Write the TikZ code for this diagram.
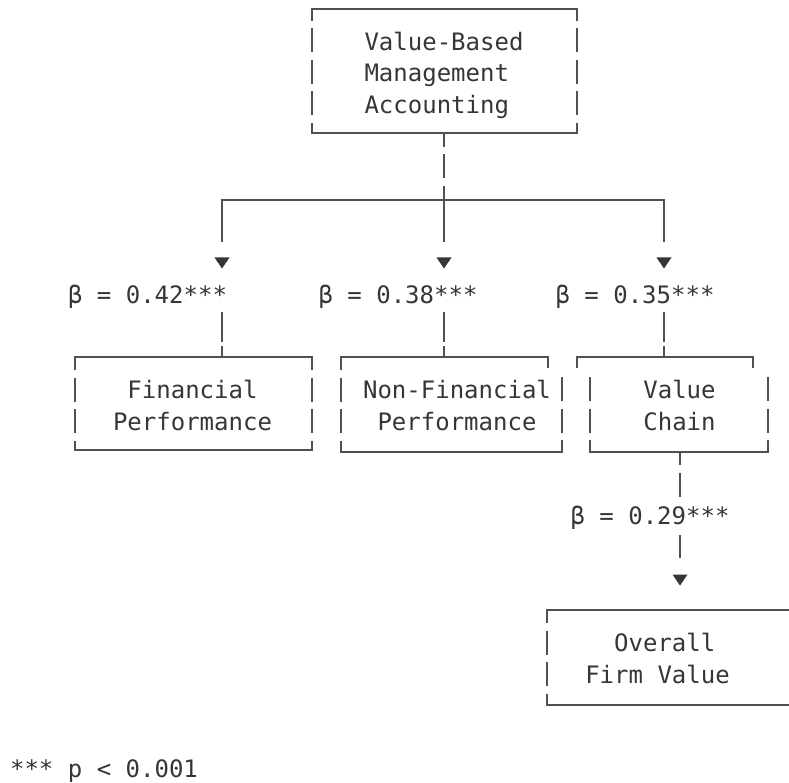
\documentclass[tikz,border=0pt]{standalone}
\usepackage{fontspec}
\setmonofont{DejaVu Sans Mono}
\usetikzlibrary{calc}
\definecolor{ink}{HTML}{363636}
\definecolor{rule}{HTML}{505050}
\begin{document}
\begin{tikzpicture}[x=1pt,y=-1pt,
  mono/.style={font=\ttfamily\fontsize{24}{31.5}\selectfont, text=ink, inner sep=0pt, outer sep=0pt},
  frame/.style={inner sep=0pt, outer sep=0pt},
  hline/.style={draw=rule, line width=1.7pt, line cap=rect},
  side/.style={draw=rule, line width=1.7pt, dash pattern=on 24pt off 7.5pt, dash phase=#1pt},
  gapline/.style={draw=rule, line width=1.7pt, dash pattern=on 30pt off 4pt},
  tip/.pic={\fill[ink] (-7.5,0) -- (7.5,0) -- (0,11) -- cycle;}
]
\useasboundingbox (0,0) rectangle (789,783);
\fill[white] (0,0) rectangle (789,783);

% box frames
\node[frame, minimum width=265pt, minimum height=124pt] (vbm) at (444.5,71) {};
\node[frame, minimum width=237pt, minimum height=93pt] (fin) at (193.5,403.5) {};
\node[frame, minimum width=221pt, minimum height=95pt] (nfin) at (451.5,404.5) {};
\node[frame, minimum width=178pt, minimum height=95pt] (vc) at (679,404.5) {};
\node[frame, minimum width=253pt, minimum height=95pt] (ofv) at (673.5,657.5) {};

% box texts
\node[mono, align=left] (vbmT) at (444,75) {Value-Based\\Management\\Accounting};
\node[mono, align=left] (finT) at (192.5,405.3) {\phantom{X}Financial\\Performance};
\node[mono, align=left] (nfinT) at (457,405.3) {Non-Financial\\\phantom{X}Performance};
\node[mono, align=left] (vcT) at (679.5,405.3) {Value\\Chain};
\node[mono, align=left] (ofvT) at (657.5,658.6) {\phantom{XX}Overall\\Firm Value};

% coefficient labels
\node[mono, anchor=base] (b1) at (147.5,304) {β = 0.42***};
\node[mono, anchor=base] (b2) at (398,304) {β = 0.38***};
\node[mono, anchor=base] (b3) at (635,304) {β = 0.35***};
\node[mono, anchor=base] (b4) at (650,524) {β = 0.29***};
\node[mono, anchor=base] (note) at (104,777) {*** p < 0.001};

% top box borders
\draw[hline] (vbm.north west) -- (vbm.north east);
\draw[hline] (vbm.south west) -- (vbm.south east);
\draw[side=12] (vbm.north west) -- (vbm.south west);
\draw[side=12] (vbm.north east) -- (vbm.south east);

% financial box
\draw[hline] (fin.north west) -- (fin.north east);
\draw[hline] (fin.south west) -- (fin.south east);
\draw[side=11] (fin.north west) -- (fin.south west);
\draw[side=11] (fin.north east) -- (fin.south east);

% non-financial box
\draw[hline] (nfin.north west) -- ([xshift=-14pt]nfin.north east);
\draw[hline, line cap=butt] ([xshift=-14pt]nfin.north east) -- ++(0,11);
\draw[hline] (nfin.south west) -- (nfin.south east);
\draw[side=11] (nfin.north west) -- (nfin.south west);
\draw[side=0] ([yshift=-20pt]nfin.north east) -- (nfin.south east);

% value chain box
\draw[hline] ([xshift=-13pt]vc.north west) -- ([xshift=-15pt]vc.north east);
\draw[hline, line cap=butt] ([xshift=-13pt]vc.north west) -- ++(0,11);
\draw[hline, line cap=butt] ([xshift=-15pt]vc.north east) -- ++(0,11);
\draw[hline] (vc.south west) -- (vc.south east);
\draw[side=0] ([yshift=-20pt]vc.north west) -- (vc.south west);
\draw[side=0] ([yshift=-20pt]vc.north east) -- (vc.south east);

% overall firm value box
\coordinate (ofvTR) at (789,610);
\coordinate (ofvBR) at (789,705);
\draw[hline] (ofv.north west) -- (ofvTR);
\draw[hline] (ofv.south west) -- (ofvBR);
\draw[side=11] (ofv.north west) -- (ofv.south west);

% connectors from top box
\coordinate (split) at (444,200);
\coordinate (j1) at (222,200);
\coordinate (j3) at (664,200);
\draw[side=10] (vbm.south -| split) -- (split);
\draw[hline] (j1) -- (j3);
\foreach \x/\n in {222/1,444/2,664/3}{
  \coordinate (top\n) at (\x,200);
  \coordinate (stub\n) at (\x,242);
  \coordinate (mid\n) at (\x,312);
  \pic at (\x,257.5) {tip};
}
\draw[hline, line cap=butt] (top1) -- (stub1);
\draw[hline, line cap=butt] (top2) -- (stub2);
\draw[hline, line cap=butt] (top3) -- (stub3);
\draw[gapline] (mid1) -- (mid1 |- fin.north);
\draw[gapline] (mid2) -- (mid2 |- nfin.north);
\draw[gapline] (mid3) -- (mid3 |- vc.north);

% connector value chain -> overall
\coordinate (vcs) at (680,452);
\coordinate (c4a) at (680,497);
\coordinate (c4b) at (680,535);
\coordinate (c4c) at (680,558);
\draw[side=11] (vcs) -- (c4a);
\draw[hline, line cap=butt] (c4b) -- (c4c);
\pic at (680,574.5) {tip};
\end{tikzpicture}
\end{document}
